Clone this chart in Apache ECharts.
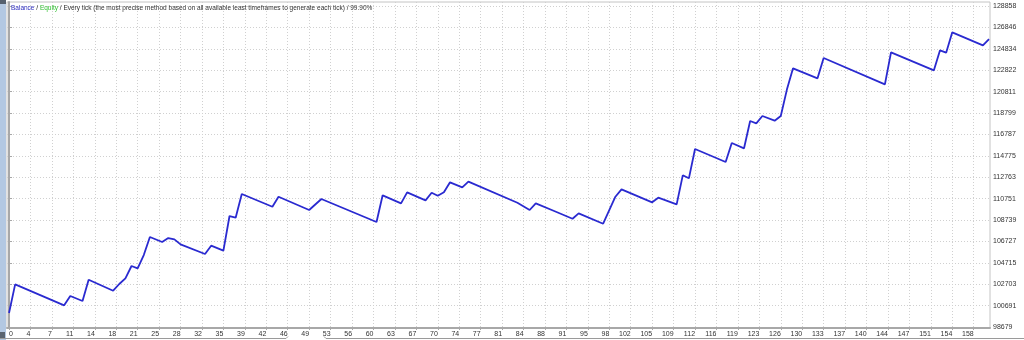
<!DOCTYPE html>
<html>
<head>
<meta charset="utf-8">
<script src="https://cdn.jsdelivr.net/npm/echarts@6/dist/echarts.min.js"></script>
<style>
html,body{margin:0;padding:0;background:#fff;}
#c{width:1024px;height:340px;}
</style>
</head>
<body>
<div id="c"></div>
<script>
// Trade number (x) and balance at each vertex of the balance curve
const trades  = [0,1,9,10,12,13,17,18,19,20,21,22,23,25,26,27,28,32,33,35,36,37,38,43,44,49,51,60,61,64,65,68,69,70,71,72,74,75,83,85,86,89,92,93,97,99,100,105,106,109,110,111,112,117,118,120,121,122,123,125,126,127,128,132,133,143,144,151,152,153,154,159,160];
const balance = [100000,102692,100718,101592,101122,103125,102091,102722,103256,104413,104194,105447,107139,106669,107045,106920,106450,105541,106325,105855,109114,108957,111182,109988,110928,109678,110712,108550,111059,110307,111341,110589,111306,111023,111341,112282,111811,112340,110364,109678,110307,109584,108860,109367,108389,110928,111624,110401,110835,110213,112940,112658,115413,114191,115977,115479,118046,117830,118516,118074,118516,121000,123000,122060,123969,121496,124505,122812,124693,124467,126385,125163,125755];
const xTickLabels = ['0','4','7','11','14','18','21','25','28','32','35','39','42','46','49','53','56','60','63','67','70','74','77','81','84','88','91','95','98','102','105','109','112','116','119','123','126','130','133','137','140','144','147','151','154','158'];
const yTickLabels = [98679,100691,102703,104715,106727,108739,110751,112763,114775,116787,118799,120811,122822,124834,126846,128858];
const titleText = 'Every tick (the most precise method based on all available least timeframes to generate each tick) / 99.90%';

const xStep = 3.5;
const xTickValues = xTickLabels.map((_, i) => i * xStep);
const FONT = 'Liberation Sans';

const chart = echarts.init(document.getElementById('c'), null, {renderer: 'canvas'});
const dash = {color: '#d0d0d0', width: 1, type: [1, 2]};

chart.setOption({
  animation: false,
  backgroundColor: '#ffffff',
  title: {
    left: 11, top: 5, padding: 0,
    text: '{b|Balance} / {e|Equity} / ' + titleText,
    textStyle: {
      fontFamily: FONT, fontSize: 6.5, fontWeight: 'normal', color: '#333',
      rich: {
        b: {color: '#3030c0', fontFamily: FONT, fontSize: 6.5},
        e: {color: '#30c030', fontFamily: FONT, fontSize: 6.5}
      }
    }
  },
  grid: {
    left: 7, right: 34, top: 2, bottom: 12,
    show: true, borderColor: '#c4c4c4', borderWidth: 1, backgroundColor: '#fff'
  },
  xAxis: [{
    type: 'value', min: -0.33, max: 160.16,
    axisLine: {show: true, onZero: false, lineStyle: {color: '#a8a8a8', width: 2}},
    axisTick: {show: true, customValues: xTickValues, length: 2, lineStyle: {color: '#a8a8a8'}},
    axisLabel: {
      customValues: xTickValues, align: 'right', margin: 3,
      fontFamily: FONT, fontSize: 7, color: '#333',
      formatter: v => { const i = Math.round(v / xStep); return i === 0 ? '' : xTickLabels[i]; }
    },
    splitLine: {show: true, lineStyle: dash}
  }, {
    type: 'value', min: -0.33, max: 160.16, position: 'bottom',
    axisLine: {show: false}, axisTick: {show: false}, splitLine: {show: false},
    axisLabel: {
      customValues: [xTickValues[0]], align: 'left', margin: 3,
      fontFamily: FONT, fontSize: 7, color: '#333',
      formatter: () => xTickLabels[0]
    }
  }],
  yAxis: {
    type: 'value', position: 'right', min: 98585, max: 129234,
    axisLine: {show: true, lineStyle: {color: '#a8a8a8', width: 2}},
    axisTick: {show: true, customValues: yTickLabels, length: 3, lineStyle: {color: '#a8a8a8'}},
    axisLabel: {
      customValues: yTickLabels, align: 'left', margin: 3,
      fontFamily: FONT, fontSize: 7, color: '#333',
      formatter: v => String(v)
    },
    splitLine: {show: true, lineStyle: dash}
  },
  series: [{
    type: 'line',
    data: trades.map((t, i) => [t, balance[i]]),
    showSymbol: false,
    lineStyle: {color: '#2a2ad0', width: 1.8},
    z: 5
  }],
  graphic: [
    {type: 'rect', shape: {x: 0, y: 0, width: 6, height: 340}, style: {fill: '#b3c8e2'}, silent: true},
    {type: 'rect', shape: {x: 0, y: 0, width: 6, height: 4}, style: {fill: '#55606e'}, silent: true},
    {type: 'rect', shape: {x: 0, y: 332, width: 5, height: 6}, style: {fill: '#5a6470'}, silent: true},
    {type: 'polyline', shape: {points: [[0, 338.5], [286, 338.5], [288, 336.5]]}, style: {stroke: '#9a9a9a', lineWidth: 1, fill: null}, silent: true},
    {type: 'polyline', shape: {points: [[324, 336.5], [326, 338.5], [1024, 338.5]]}, style: {stroke: '#9a9a9a', lineWidth: 1, fill: null}, silent: true}
  ]
});
</script>
</body>
</html>
